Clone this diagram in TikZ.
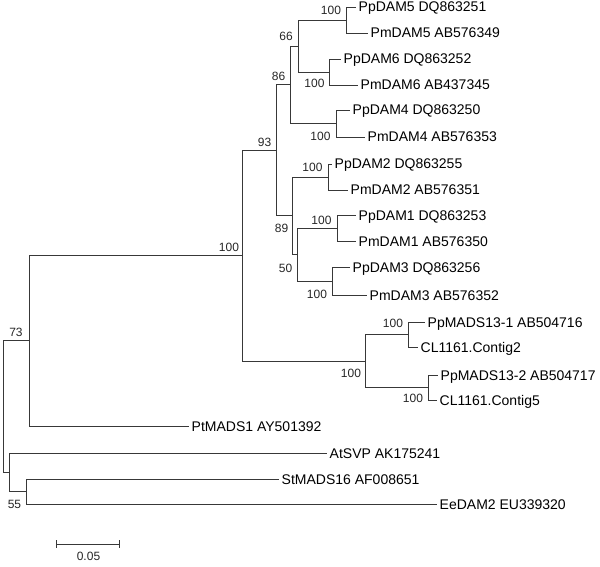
\documentclass[tikz,border=0pt]{standalone}
\usepackage{fontspec}
\setmainfont{Liberation Sans}
\usetikzlibrary{positioning}

\tikzset{
  branch/.style={draw=black!78, line width=0.9pt},
  leaf/.style={anchor=west, inner xsep=2.5pt, inner ysep=0pt, text height=10pt, text depth=0pt,
    font=\fontsize{14}{16}\selectfont},
  boot/.style={inner sep=0pt, text=black!85, font=\fontsize{12}{14}\selectfont},
}

\begin{document}
\begin{tikzpicture}[x=1pt, y=-1pt]
    \useasboundingbox (0,0) rectangle (600,567);

    % Internal nodes of the tree
    \coordinate (root) at (3,406.6);
    \coordinate (n73)  at (29,340.9);
    \coordinate (nOut) at (9,472.3);
    \coordinate (n55)  at (26,491.5);
    \coordinate (n100) at (242,255.7);
    \coordinate (nM)   at (365,361);
    \coordinate (m1)   at (408,334.5);
    \coordinate (m2)   at (428,387.5);
    \coordinate (n93)  at (276,150.4);
    \coordinate (n86)  at (290,84.8);
    \coordinate (n66)  at (298,46);
    \coordinate (n5)   at (346,20);
    \coordinate (n6)   at (329,72);
    \coordinate (n4)   at (336,123.5);
    \coordinate (n89)  at (292,215.8);
    \coordinate (n2)   at (328,177);
    \coordinate (n50)  at (297,254.5);
    \coordinate (n1)   at (337,228);
    \coordinate (n3)   at (332,281);

    % Leaves (tip of branch = west side of label)
    \node[leaf] (PpDAM5) at (356,7)   {PpDAM5 DQ863251};
    \node[leaf] (PmDAM5) at (368,33)  {PmDAM5 AB576349};
    \node[leaf] (PpDAM6) at (341,59)  {PpDAM6 DQ863252};
    \node[leaf] (PmDAM6) at (358,85)  {PmDAM6 AB437345};
    \node[leaf] (PpDAM4) at (350,110) {PpDAM4 DQ863250};
    \node[leaf] (PmDAM4) at (365,137) {PmDAM4 AB576353};
    \node[leaf] (PpDAM2) at (332,164) {PpDAM2 DQ863255};
    \node[leaf] (PmDAM2) at (348,190) {PmDAM2 AB576351};
    \node[leaf] (PpDAM1) at (356,215) {PpDAM1 DQ863253};
    \node[leaf] (PmDAM1) at (356,241) {PmDAM1 AB576350};
    \node[leaf] (PpDAM3) at (350,267) {PpDAM3 DQ863256};
    \node[leaf] (PmDAM3) at (367,295) {PmDAM3 AB576352};
    \node[leaf] (PpM131) at (425,322) {PpMADS13-1 AB504716};
    \node[leaf] (CLc2)   at (418,347) {CL1161.Contig2};
    \node[leaf] (PpM132) at (438,375) {PpMADS13-2 AB504717};
    \node[leaf] (CLc5)   at (437,400) {CL1161.Contig5};
    \node[leaf] (PtMADS) at (189,426) {PtMADS1 AY501392};
    \node[leaf] (AtSVP)  at (327,453) {AtSVP AK175241};
    \node[leaf] (StMADS) at (279,479) {StMADS16 AF008651};
    \node[leaf] (EeDAM)  at (437,504) {EeDAM2 EU339320};

    % Branches, parent to child
    \foreach \p/\c in {root/n73, root/nOut, n73/n100, n73/PtMADS.west,
                       nOut/AtSVP.west, nOut/n55, n55/StMADS.west, n55/EeDAM.west,
                       n100/n93, n100/nM, nM/m1, nM/m2,
                       m1/PpM131.west, m1/CLc2.west, m2/PpM132.west, m2/CLc5.west,
                       n93/n86, n93/n89, n86/n66, n86/n4, n66/n5, n66/n6,
                       n5/PpDAM5.west, n5/PmDAM5.west, n6/PpDAM6.west, n6/PmDAM6.west,
                       n4/PpDAM4.west, n4/PmDAM4.west,
                       n89/n2, n89/n50, n50/n1, n50/n3,
                       n2/PpDAM2.west, n2/PmDAM2.west, n1/PpDAM1.west, n1/PmDAM1.west,
                       n3/PpDAM3.west, n3/PmDAM3.west}
        \draw[branch] (\p) |- (\c);

    % Bootstrap values
    \node[boot] (b5)   at (331,10.5)  {100};
    \node[boot] (b66)  at (286,36.5)  {66};
    \node[boot] (b6)   at (314.5,83.5) {100};
    \node[boot] (b86)  at (278.5,76)  {86};
    \node[boot] (b4)   at (320.5,136.5) {100};
    \node[boot] (b93)  at (264.5,142) {93};
    \node[boot] (b2)   at (312.5,167) {100};
    \node[boot] (b89)  at (281.5,228.5) {89};
    \node[boot] (b1)   at (321.5,220) {100};
    \node[boot] (b50)  at (285.5,268) {50};
    \node[boot] (b3)   at (317,294)   {100};
    \node[boot] (b100) at (229,247)   {100};
    \node[boot] (bm1)  at (393,323)   {100};
    \node[boot] (bM)   at (351,373)   {100};
    \node[boot] (bm2)  at (413,398)   {100};
    \node[boot] (b73)  at (16,332)    {73};
    \node[boot] (b55)  at (14.5,504)  {55};

    % Scale bar
    \coordinate (sbl) at (56,544);
    \coordinate (sbr) at (119,544);
    \draw[branch] (sbl) -- (sbr);
    \draw[branch] ([yshift=4pt]sbl) -- ([yshift=-4pt]sbl);
    \draw[branch] ([yshift=4pt]sbr) -- ([yshift=-4pt]sbr);
    \node[boot] (sblab) at (88.5,556.5) {0.05};

\end{tikzpicture}
\end{document}
